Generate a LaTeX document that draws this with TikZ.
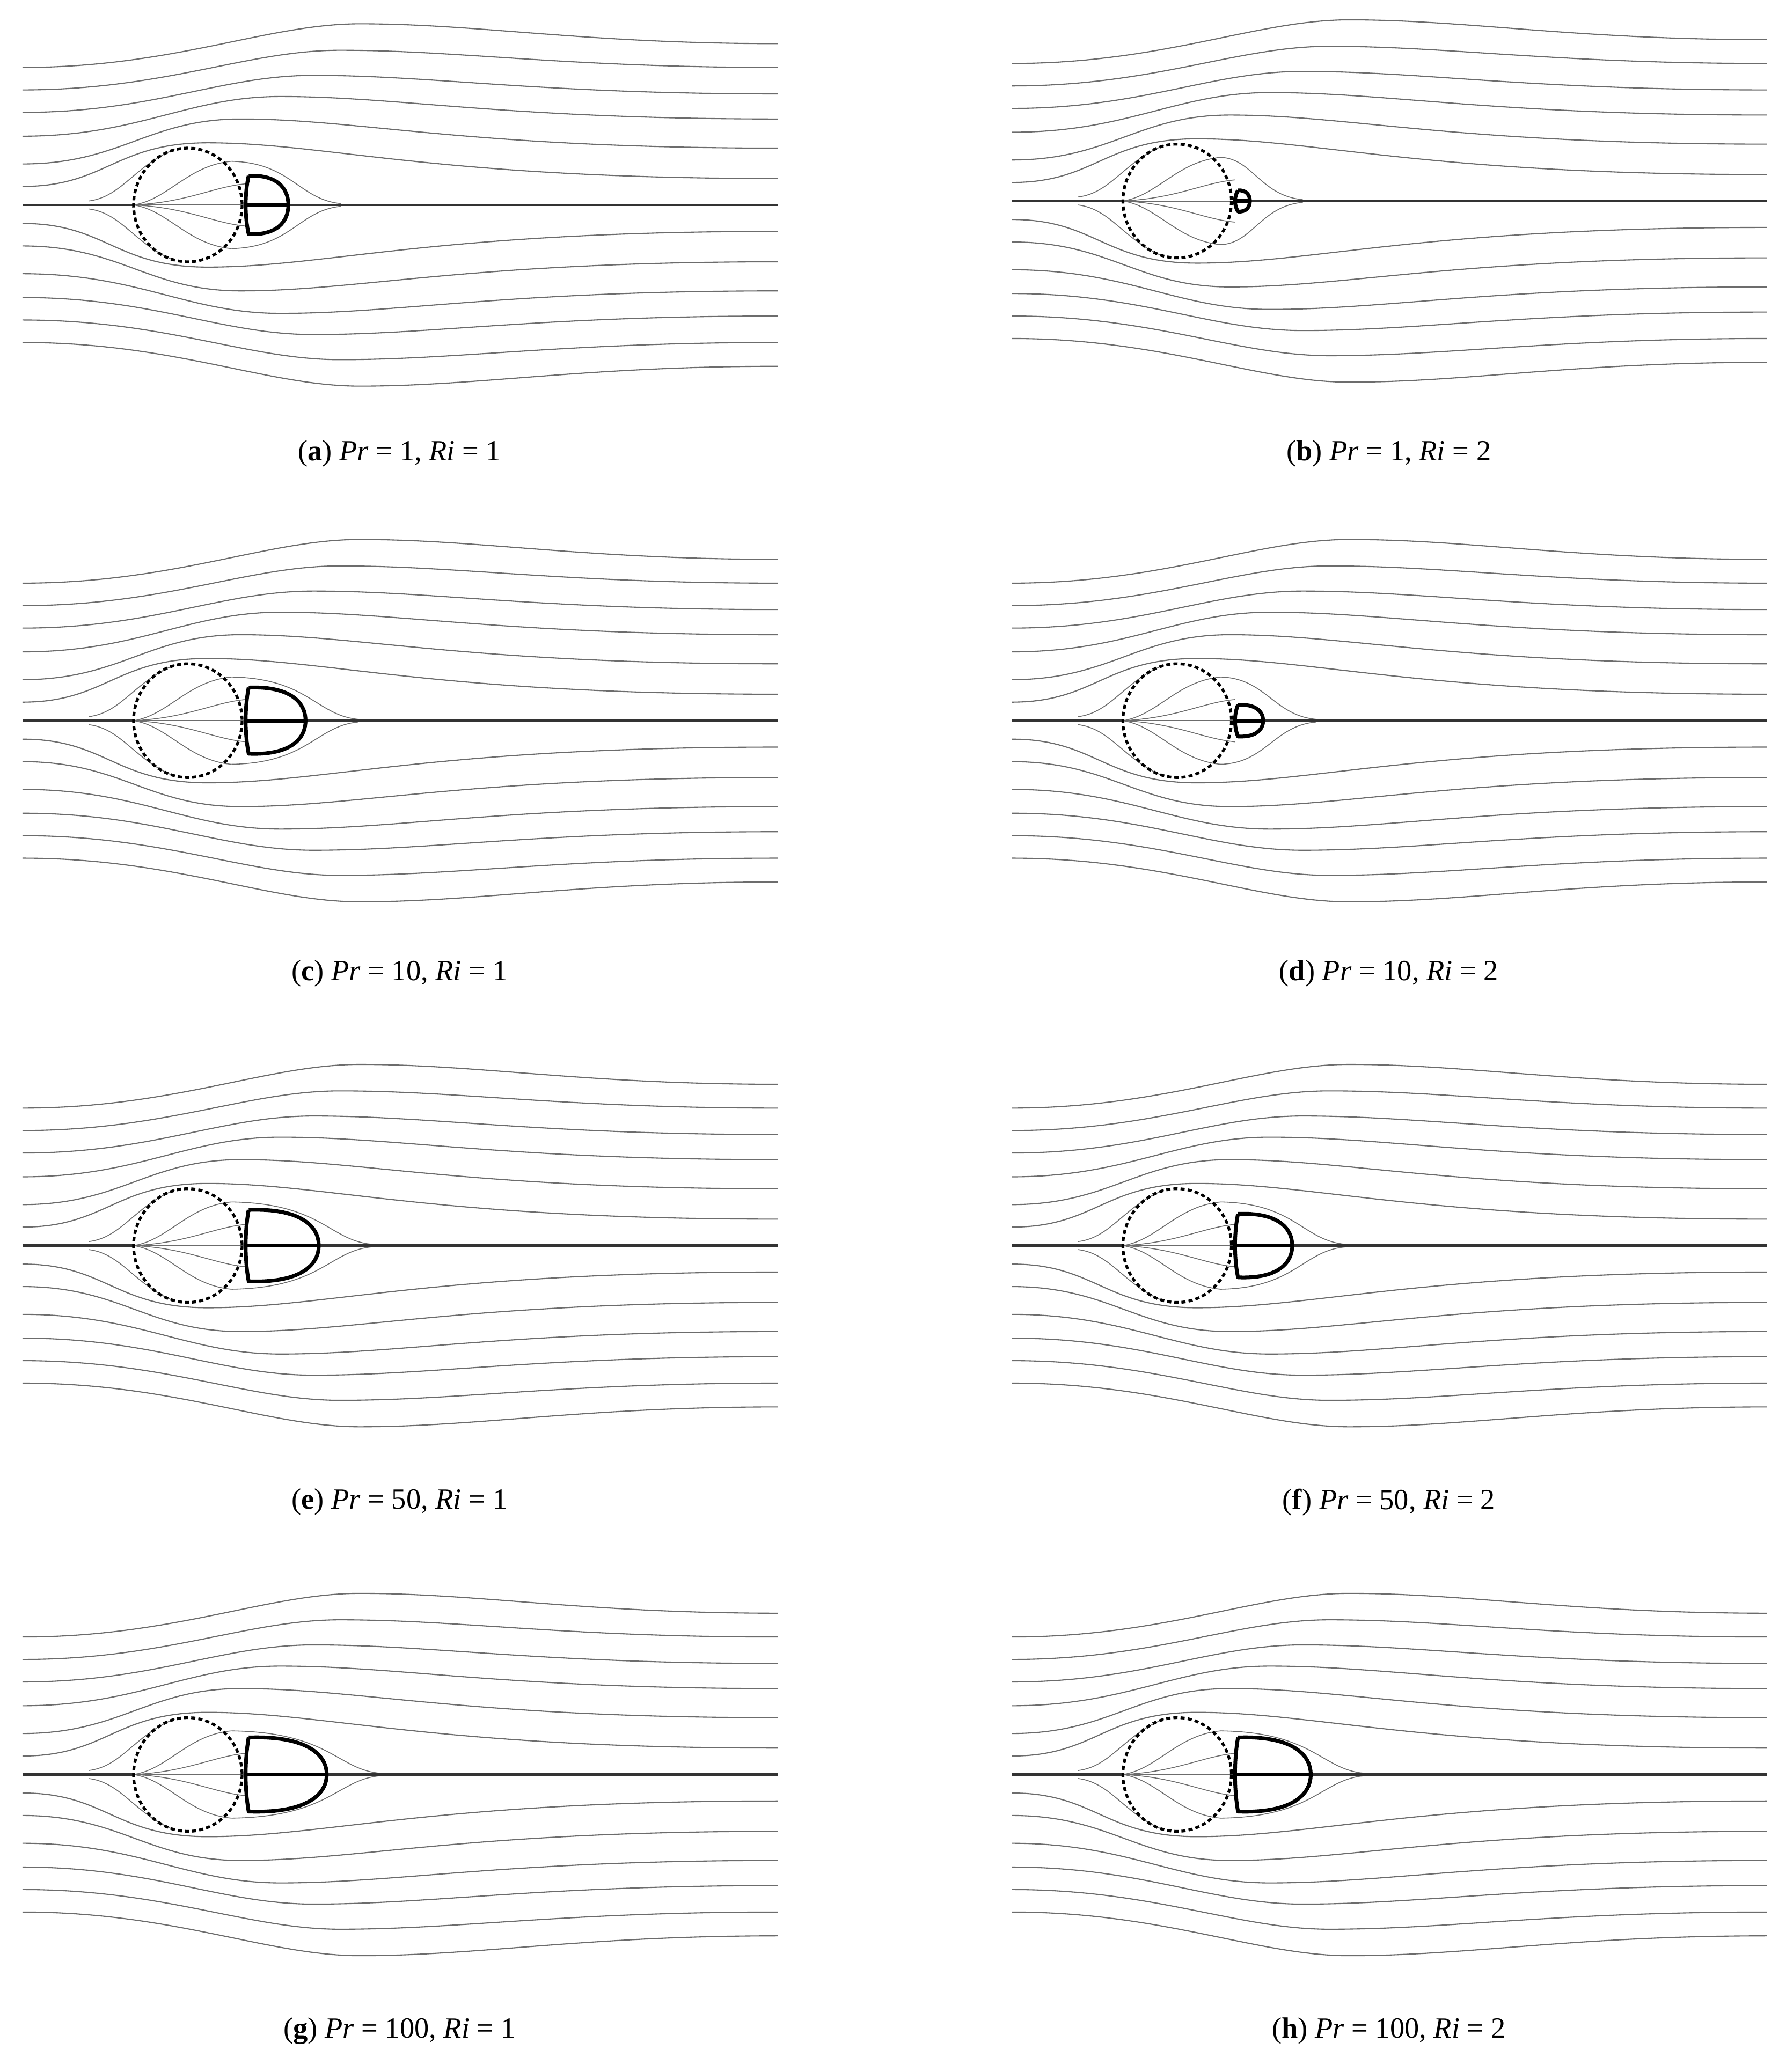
\documentclass[tikz,border=0pt]{standalone}
\usepackage{fontspec}
\setmainfont{Liberation Serif}
\tikzset{
  stream/.style={gray!85!black, line width=0.6pt},
  axisline/.style={black!80, line width=1.4pt},
  drop/.style={black, line width=1.5pt, dash pattern=on 2.2pt off 1.6pt},
  vortex/.style={black, line width=2pt, line join=round},
  subcap/.style={font=\fontsize{15.5}{18}\selectfont, inner sep=0pt}
}
% #1 panel left, #2 centre line, #3 vortex width, #4 vortex half height
\newcommand{\flowpanel}[4]{
  \begin{scope}[shift={(#1,#2)}]
    % outer streamlines
    \foreach \ya/\yb/\ypk/\xpk in {14/20/47/140, 31/43/65/165, 52/65/82/195,
        70/84/98/220, 87/104/117/240, 104/122/137/255}{
      \draw[stream] (0,-\ya) .. controls ({0.45*\xpk},-\ya) and ({\xpk-70},-\ypk) .. (\xpk,-\ypk)
        .. controls ({\xpk+90},-\ypk) and ({\xpk+170},-\yb) .. (571,-\yb);
      \draw[stream] (0,\ya) .. controls ({0.45*\xpk},\ya) and ({\xpk-70},\ypk) .. (\xpk,\ypk)
        .. controls ({\xpk+90},\ypk) and ({\xpk+170},\yb) .. (571,\yb);
    }
    % inner streamlines
    \foreach \sg in {-1,1}{
      \draw[stream, line width=0.45pt] (84,0) .. controls (110,{\sg*4}) and (125,{\sg*30}) .. (158,{\sg*33});
      \draw[stream, line width=0.45pt] (84,0) .. controls (125,{\sg*2}) and (145,{\sg*14}) .. (169,{\sg*16});
      \draw[stream, line width=0.45pt] (158,{\sg*33}) .. controls ({172+#3},{\sg*32}) and ({178+#3},{\sg*4}) .. ({210+#3},{\sg*1});
      \draw[stream, line width=0.45pt] (50,{\sg*3}) .. controls (75,{\sg*6}) and (85,{\sg*30}) .. (115,{\sg*42});
    }
    \draw[axisline] (0,0) -- (84,0);
    \draw[stream] (84,0) -- (170,0);
    \draw[axisline] ({170+#3},0) -- (571,0);
    % droplet
    \draw[drop] (125,0) ellipse [x radius=41, y radius=43];
    % vortex pair
    \draw[vortex] (171,-#4) .. controls (168,{-0.4*#4}) and (168,{0.4*#4}) .. (171,#4)
      .. controls ({170+0.7*#3},{1.05*#4}) and ({170+#3},{0.6*#4}) .. ({170+#3},0)
      .. controls ({170+#3},{-0.6*#4}) and ({170+0.7*#3},{-1.05*#4}) .. (171,-#4);
    \draw[vortex] (169,0) -- ({170+#3},0);
  \end{scope}
}
\begin{document}
\begin{tikzpicture}[x=0.02465cm, y=-0.02465cm]
  \useasboundingbox (0,0) rectangle (1350,1567);
  % row 1
  \flowpanel{17}{155}{31}{22}
  \flowpanel{765}{152}{10}{8}
  \node[subcap] (capa) at (302,343) {(\textbf{a}) \textit{Pr} = 1, \textit{Ri} = 1};
  \node[subcap] (capb) at (1050,343) {(\textbf{b}) \textit{Pr} = 1, \textit{Ri} = 2};
  % row 2
  \flowpanel{17}{545}{44}{25}
  \flowpanel{765}{545}{20}{12}
  \node[subcap] (capc) at (302,736) {(\textbf{c}) \textit{Pr} = 10, \textit{Ri} = 1};
  \node[subcap] (capd) at (1050,736) {(\textbf{d}) \textit{Pr} = 10, \textit{Ri} = 2};
  % row 3
  \flowpanel{17}{942}{54}{27}
  \flowpanel{765}{942}{42}{24}
  \node[subcap] (cape) at (302,1136) {(\textbf{e}) \textit{Pr} = 50, \textit{Ri} = 1};
  \node[subcap] (capf) at (1050,1136) {(\textbf{f}) \textit{Pr} = 50, \textit{Ri} = 2};
  % row 4
  \flowpanel{17}{1342}{60}{28}
  \flowpanel{765}{1342}{56}{28}
  \node[subcap] (capg) at (302,1536) {(\textbf{g}) \textit{Pr} = 100, \textit{Ri} = 1};
  \node[subcap] (caph) at (1050,1536) {(\textbf{h}) \textit{Pr} = 100, \textit{Ri} = 2};
\end{tikzpicture}
\end{document}
